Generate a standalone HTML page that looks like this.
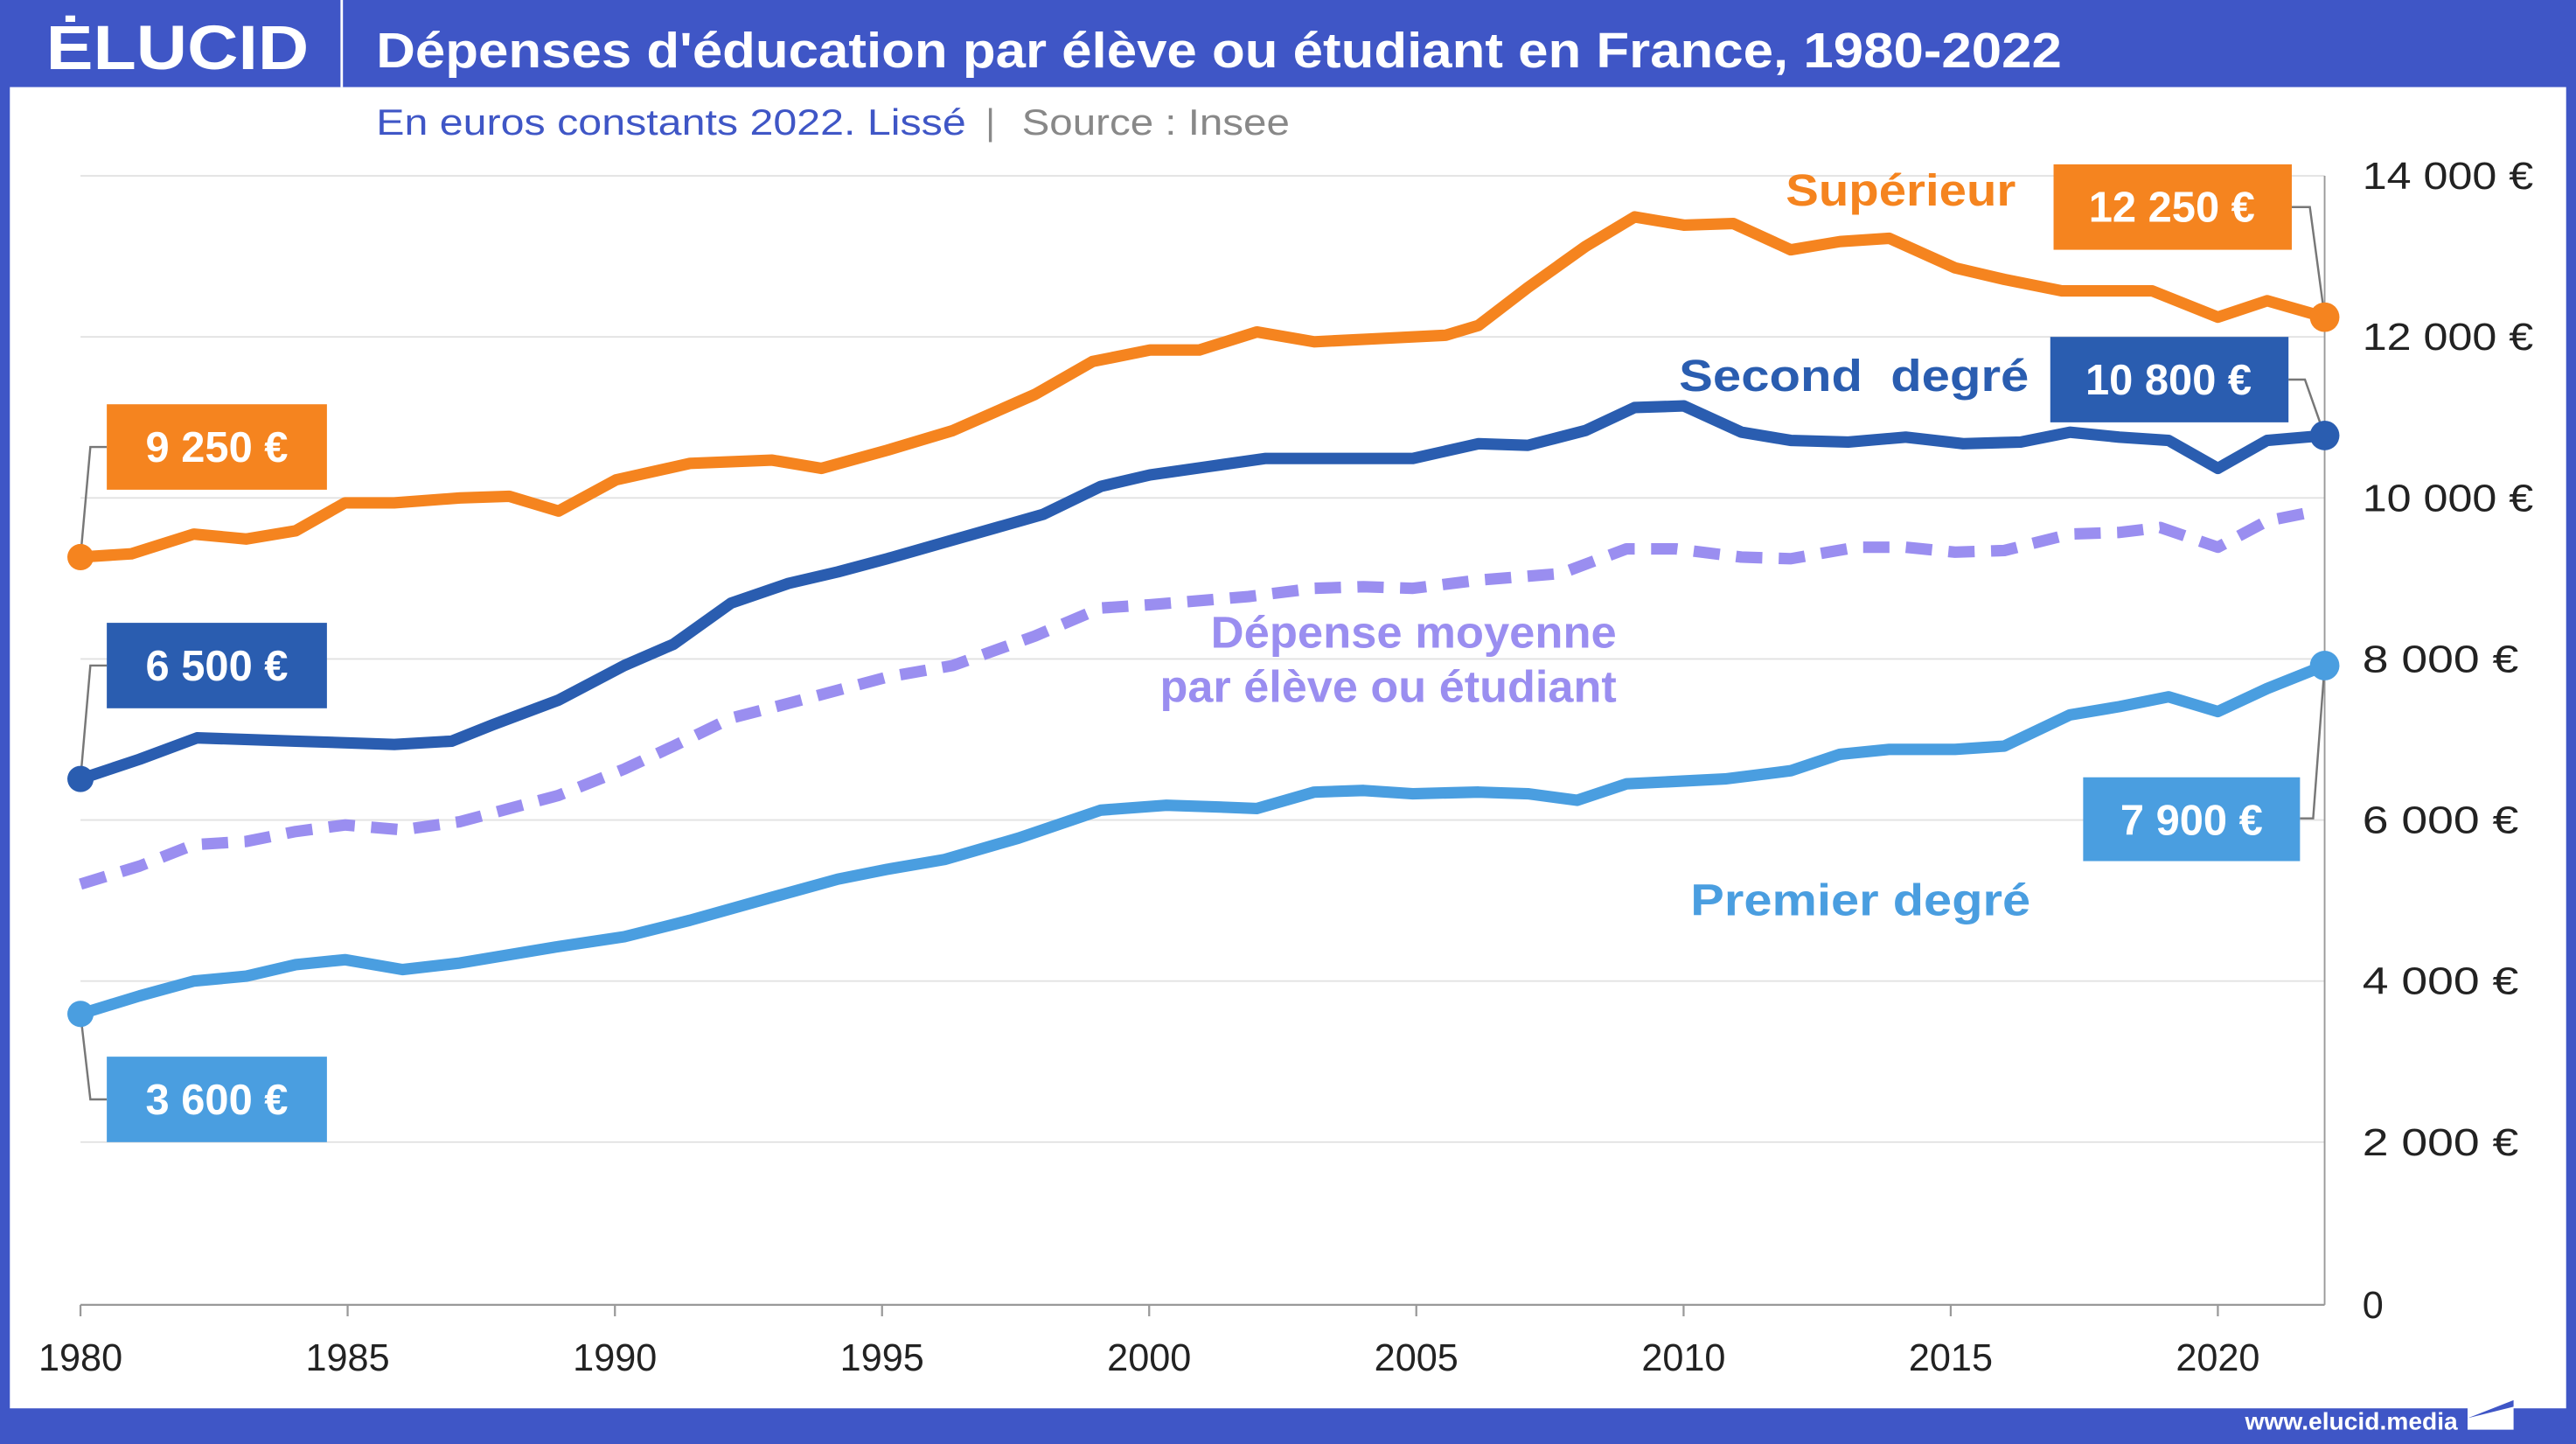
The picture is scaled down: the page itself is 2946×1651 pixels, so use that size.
<!DOCTYPE html>
<html><head><meta charset="utf-8"><style>
html,body{margin:0;padding:0;background:#fff;}
svg{display:block;}
text{font-family:"Liberation Sans",sans-serif;}
</style></head><body>
<svg width="2946" height="1651" viewBox="0 0 1568 878.7" preserveAspectRatio="none" xmlns="http://www.w3.org/2000/svg">
<rect x="0" y="0" width="1568" height="878.7" fill="#3f56c6"/>
<rect x="6" y="53" width="1556" height="804" fill="#fff"/>
<line x1="208" y1="0" x2="208" y2="53" stroke="#fff" stroke-width="1.5"/>
<text x="28" y="42" font-size="38" font-weight="bold" fill="#fff" textLength="160" lengthAdjust="spacingAndGlyphs">ĖLUCID</text>
<text x="229" y="41" font-size="30" font-weight="bold" fill="#fff" textLength="1026" lengthAdjust="spacingAndGlyphs">Dépenses d'éducation par élève ou étudiant en France, 1980-2022</text>
<text x="229" y="82" font-size="22" fill="#3f56c6" textLength="359" lengthAdjust="spacingAndGlyphs">En euros constants 2022. Lissé</text>
<text x="600" y="82" font-size="22" fill="#888">|</text>
<text x="622" y="82" font-size="22" fill="#888" textLength="163" lengthAdjust="spacingAndGlyphs">Source : Insee</text>
<g stroke="#e2e2e2" stroke-width="1">
<line x1="49" y1="107" x2="1415" y2="107"/><line x1="49" y1="205" x2="1415" y2="205"/>
<line x1="49" y1="303" x2="1415" y2="303"/><line x1="49" y1="401" x2="1415" y2="401"/>
<line x1="49" y1="499" x2="1415" y2="499"/><line x1="49" y1="597" x2="1415" y2="597"/>
<line x1="49" y1="695" x2="1415" y2="695"/>
</g>
<line x1="49" y1="794" x2="1415" y2="794" stroke="#999" stroke-width="1.2"/>
<line x1="1415" y1="107" x2="1415" y2="794" stroke="#999" stroke-width="1"/>
<g stroke="#999" stroke-width="1.2">
<line x1="49" y1="794" x2="49" y2="801"/><line x1="211.6" y1="794" x2="211.6" y2="801"/><line x1="374.3" y1="794" x2="374.3" y2="801"/><line x1="536.9" y1="794" x2="536.9" y2="801"/><line x1="699.5" y1="794" x2="699.5" y2="801"/><line x1="862.1" y1="794" x2="862.1" y2="801"/><line x1="1024.8" y1="794" x2="1024.8" y2="801"/><line x1="1187.4" y1="794" x2="1187.4" y2="801"/><line x1="1350" y1="794" x2="1350" y2="801"/>
</g>
<g font-size="23" fill="#222" text-anchor="middle">
<text x="49" y="834">1980</text><text x="211.6" y="834">1985</text><text x="374.3" y="834">1990</text><text x="536.9" y="834">1995</text><text x="699.5" y="834">2000</text><text x="862.1" y="834">2005</text><text x="1024.8" y="834">2010</text><text x="1187.4" y="834">2015</text><text x="1350" y="834">2020</text>
</g>
<g font-size="23" fill="#222">
<text x="1438" y="115" textLength="104" lengthAdjust="spacingAndGlyphs">14 000 €</text><text x="1438" y="213" textLength="104" lengthAdjust="spacingAndGlyphs">12 000 €</text><text x="1438" y="311" textLength="104" lengthAdjust="spacingAndGlyphs">10 000 €</text><text x="1438" y="409" textLength="95" lengthAdjust="spacingAndGlyphs">8 000 €</text><text x="1438" y="507" textLength="95" lengthAdjust="spacingAndGlyphs">6 000 €</text><text x="1438" y="605" textLength="95" lengthAdjust="spacingAndGlyphs">4 000 €</text><text x="1438" y="703" textLength="95" lengthAdjust="spacingAndGlyphs">2 000 €</text><text x="1438" y="802">0</text>
</g>
<g fill="none" stroke-width="7" stroke-linejoin="round" stroke-linecap="round">
<polyline stroke="#f5841f" points="49,339 80,337 118,325 150,328 180,323 210,306 240,306 280,303 310,302 340,311 375,292 420,282 470,280 500,285 540,274 580,262 630,240 665,220 700,213 730,213 765,202 800,208 840,206 880,204 900,198 930,175 965,150 995,132 1025,137 1055,136 1090,152 1120,147 1150,145 1190,163 1220,170 1255,177 1310,177 1350,193 1380,183 1415,193"/>
<polyline stroke="#2a5db0" points="49,474 85,462 120,449 180,451 240,453 275,451 300,441 340,426 380,405 410,392 445,367 480,355 510,348 540,340 575,330 635,313 670,296 700,289 735,284 770,279 830,279 860,279 900,270 930,271 965,262 995,248 1025,247 1060,263 1090,268 1125,269 1160,266 1195,270 1230,269 1260,263 1290,266 1320,268 1350,285 1380,268 1415,265"/>
<polyline stroke="#9a8ef0" stroke-dasharray="16,10" stroke-linecap="butt" points="49,538 85,527 118,514 150,512 180,506 210,502 245,505 280,500 340,484 380,468 410,454 445,437 480,428 510,420 540,412 580,405 630,387 670,370 700,368 760,363 800,358 830,357 860,358 900,353 950,349 990,334 1020,334 1060,339 1090,340 1130,333 1160,333 1190,336 1220,335 1260,325 1290,324 1315,321 1350,333 1380,317 1410,311"/>
<polyline stroke="#4a9ee0" points="49,617 85,606 118,597 150,594 180,587 210,584 245,590 280,586 340,576 380,570 420,560 470,546 510,535 540,529 575,523 620,510 670,493 710,490 740,491 765,492 800,482 830,481 860,483 900,482 930,483 960,487 990,477 1050,474 1090,469 1120,459 1150,456 1190,456 1220,454 1260,435 1290,430 1320,424 1350,433 1380,419 1415,405"/>
</g>
<g fill="none" stroke="#777" stroke-width="1.3">
<polyline points="49,339 55,272 65,272"/>
<polyline points="49,474 55,405 65,405"/>
<polyline points="49,617 55,669 65,669"/>
<polyline points="1415,193 1406,126 1395,126"/>
<polyline points="1415,265 1403,231 1393,231"/>
<polyline points="1415,405 1408,498 1400,498"/>
</g>
<circle cx="49" cy="339" r="8" fill="#f5841f"/>
<circle cx="49" cy="474" r="8" fill="#2a5db0"/>
<circle cx="49" cy="617" r="8" fill="#4a9ee0"/>
<circle cx="1415" cy="193" r="9" fill="#f5841f"/>
<circle cx="1415" cy="265" r="9" fill="#2a5db0"/>
<circle cx="1415" cy="405" r="9" fill="#4a9ee0"/>
<g font-size="26" font-weight="bold" fill="#fff" text-anchor="middle">
<rect x="65" y="246" width="134" height="52" fill="#f5841f"/><text x="132" y="281">9 250 €</text>
<rect x="65" y="379" width="134" height="52" fill="#2a5db0"/><text x="132" y="414">6 500 €</text>
<rect x="65" y="643" width="134" height="52" fill="#4a9ee0"/><text x="132" y="678">3 600 €</text>
<rect x="1250" y="100" width="145" height="52" fill="#f5841f"/><text x="1322" y="135">12 250 €</text>
<rect x="1248" y="205" width="145" height="52" fill="#2a5db0"/><text x="1320" y="240">10 800 €</text>
<rect x="1268" y="473" width="132" height="51" fill="#4a9ee0"/><text x="1334" y="508">7 900 €</text>
</g>
<g font-size="27" font-weight="bold">
<text x="1087" y="125" fill="#f5841f" textLength="140" lengthAdjust="spacingAndGlyphs">Supérieur</text>
<text x="1022" y="238" fill="#2a5db0" xml:space="preserve" textLength="213" lengthAdjust="spacingAndGlyphs">Second  degré</text>
<text x="737" y="394" fill="#9a8ef0" textLength="247" lengthAdjust="spacingAndGlyphs">Dépense moyenne</text>
<text x="706" y="427" fill="#9a8ef0" textLength="278" lengthAdjust="spacingAndGlyphs">par élève ou étudiant</text>
<text x="1029" y="557" fill="#4a9ee0" textLength="207" lengthAdjust="spacingAndGlyphs">Premier degré</text>
</g>
<text x="1496" y="870" font-size="15" font-weight="bold" fill="#fff" text-anchor="end">www.elucid.media</text>
<polygon points="1502,856 1530,845 1530,870 1502,870" fill="#fff"/>
<polygon points="1502,863 1530,852 1530,856" fill="#3f56c6"/>
</svg>
</body></html>
